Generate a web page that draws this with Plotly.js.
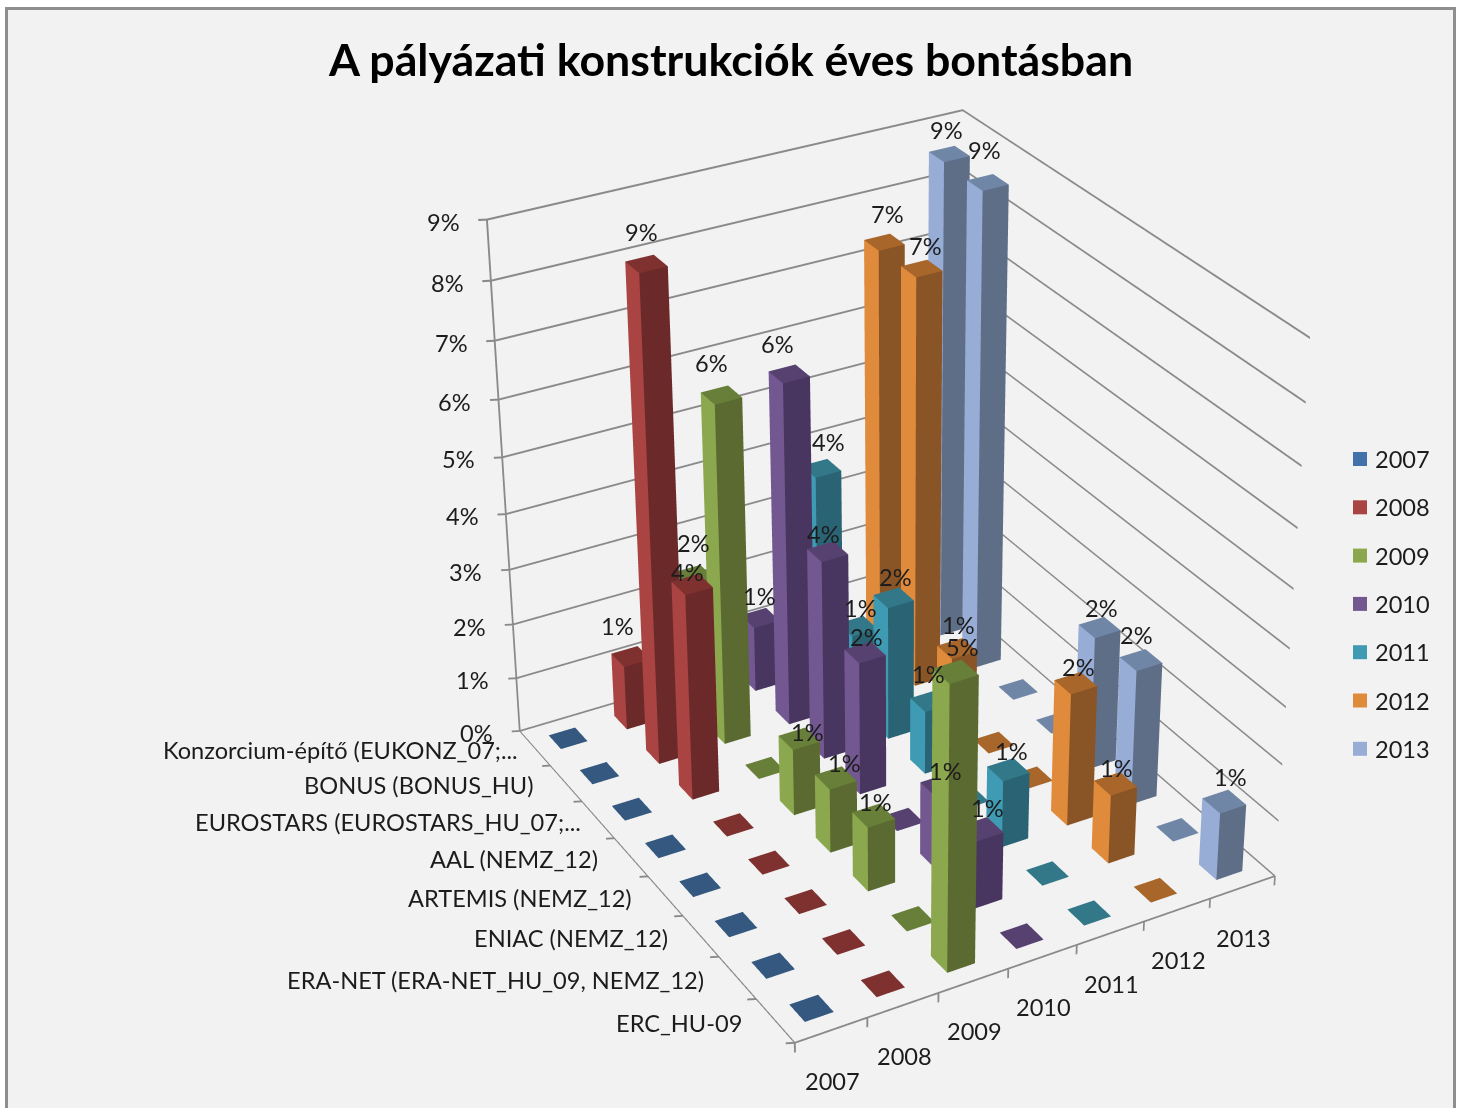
<!DOCTYPE html>
<html><head><meta charset="utf-8">
<script src="https://cdn.plot.ly/plotly-3.0.1.min.js"></script>
<style>
html,body{margin:0;padding:0;width:1462px;height:1108px;overflow:hidden;background:#fff}
#frame{position:absolute;left:5px;top:7px;width:1445px;height:1200px;background:#f2f2f2;border:3px solid #8e8e8e}
#chart{position:absolute;left:0;top:-901px;width:1582px;height:2910px}
</style></head><body>
<div id="frame"></div><div id="chart"></div>
<script>
const title = "A pályázati konstrukciók éves bontásban";
const categories = ["ERC_HU-09","ERA-NET (ERA-NET_HU_09, NEMZ_12)","ENIAC (NEMZ_12)","ARTEMIS (NEMZ_12)","AAL (NEMZ_12)","EUROSTARS (EUROSTARS_HU_07;...","BONUS (BONUS_HU)","Konzorcium-építő (EUKONZ_07;..."];
const years = ["2007","2008","2009","2010","2011","2012","2013"];
const v2007 = [0,0,0,0,0,0,0,0];
const v2008 = [0,0,0,0,0,3.7,8.57,1.18];
const v2009 = [4.92,0,1.15,1.15,1.2,0,6.1,2.35];
const v2010 = [0,1.2,1.3,0,2.4,3.6,6.16,1.2];
const v2011 = [0,0,1.2,0,1.15,2.43,1.3,3.65];
const v2012 = [0,1.23,2.38,0,0,1.14,7.38,7.36];
const v2013 = [1.2,0,2.43,2.4,0,0,8.56,8.6];
const series = [v2007,v2008,v2009,v2010,v2011,v2012,v2013];
const zTicks = ["0%","1%","2%","3%","4%","5%","6%","7%","8%","9%"];
const faceLeft  = ["#4372aa","#a94442","#8ba84e","#725790","#3f9bb4","#e08a3c","#97add6"];
const faceRight = ["#2b4a70","#6b2a29","#5a6a30","#483660","#2a6474","#8a5526","#5f6e87"];
const faceTop   = ["#34587f","#7f3130","#677f38","#574170","#327888","#a8662b","#7086a6"];
const legendCol = ["#4372aa","#a94442","#8ba84e","#725790","#3f9bb4","#e08a3c","#97add6"];
// per-label nudges in px [right, up], keyed "series,row"
const labelNudge = {"1,7":[-8,3],"1,6":[0,5],"1,5":[0,-14],
 "2,7":[5,5],"2,6":[-5,5],"2,4":[13,-20],"2,3":[14,-12],"2,2":[7,-13],"2,0":[12,-2],
 "3,7":[4,-5],"3,6":[-7,3],"3,5":[1,-9],"3,4":[6,-12],"3,2":[9,-13],"3,1":[11,-6],
 "4,7":[12,-1],"4,6":[8,-9],"4,5":[7,-6],"4,4":[3,0],"4,2":[8,-8],
 "5,7":[8,1],"5,6":[9,-4],"5,5":[6,-4],"5,2":[8,-11],"5,1":[6,-11],
 "6,7":[2,-3],"6,6":[2,5],"6,3":[7,-8],"6,2":[1,-2],"6,0":[11,-2]};

const W=1582,H=2910,TOP=901,BAR=0.4;
const FONT="Lato, sans-serif", TXT="#1c1c1c", GRID="#8a8a8a";
const px=x=>x/W, py=y=>1-(y+TOP)/H;
const NX=years.length, NY=categories.length, NZ=zTicks.length-1;
// axis ranges: a small margin past the floor/walls leaves room for the lines and tick marks
const xr=[-0.12,NX+.06], yr=[-.06,NY+0.08], zr=[-0.2,NZ+.06];
// scene units per step on each axis
const ux=.5825/NX, uy=.661/NY, uz=.640/NZ;
const shift=[(xr[0]+xr[1]-NX)/2*ux,(yr[0]+yr[1]-NY)/2*uy,(zr[0]+zr[1]-NZ)/2*uz];

function meshBuilder(){
  const m={x:[],y:[],z:[],i:[],j:[],k:[],facecolor:[]};
  m.quad=(a,b,c,d,col)=>{const n=m.x.length;
    [a,b,c,d].forEach(p=>{m.x.push(p[0]);m.y.push(p[1]);m.z.push(p[2]);});
    m.i.push(n,n);m.j.push(n+1,n+2);m.k.push(n+2,n+3);m.facecolor.push(col,col);};
  return m;
}
const flat={ambient:1,diffuse:0,specular:0,roughness:1,fresnel:0};
function toTrace(m,name){
  return {type:'mesh3d',name,x:m.x,y:m.y,z:m.z,i:m.i,j:m.j,k:m.k,facecolor:m.facecolor,flatshading:true,
    hoverinfo:'skip',showscale:false,lighting:flat,lightposition:{x:0,y:0,z:1000}};
}
function barMesh(s){
  const m=meshBuilder();
  series[s].forEach((v,r)=>{
    const x0=s+.5-BAR/2,x1=s+.5+BAR/2,y0=r+.5-BAR/2,y1=r+.5+BAR/2;
    m.quad([x0,y0,v],[x1,y0,v],[x1,y1,v],[x0,y1,v],faceTop[s]);
    if(v>0){
      m.quad([x0,y0,0],[x0,y1,0],[x0,y1,v],[x0,y0,v],faceLeft[s]);
      m.quad([x0,y0,0],[x1,y0,0],[x1,y0,v],[x0,y0,v],faceRight[s]);
    }
  });
  return toTrace(m,years[s]);
}
const data=years.map((_,s)=>barMesh(s));

// walls, axis edges and tick marks as thin ribbons so they keep a 2px weight
const g=meshBuilder(), dz=.017, dd=.013;
const hline=(a,b)=>g.quad([a[0],a[1],a[2]-dz],[b[0],b[1],b[2]-dz],[b[0],b[1],b[2]+dz],[a[0],a[1],a[2]+dz],GRID);
for(let n=0;n<=NZ;n++){
  hline([0,NY,n],[NX,NY,n]);
  hline([NX,NY,n],[NX,0,n]);
  hline([-.1,NY+.045,n],[0,NY,n]);
}
g.quad([-dd,NY,0],[dd,NY,0],[dd,NY,NZ],[-dd,NY,NZ],GRID);
hline([0,0,0],[NX,0,0]);
hline([0,0,0],[0,NY,0]);
for(let n=0;n<=NX;n++) g.quad([n-dd,0,-.17],[n+dd,0,-.17],[n+dd,0,0],[n-dd,0,0],GRID);
for(let n=0;n<NY;n++) hline([-.1,n+.045,0],[0,n,0]);
data.push(toTrace(g,'grid'));

const ann=[];
const tf={family:FONT,size:23.6,color:TXT};
series.forEach((vals,s)=>vals.forEach((v,r)=>{
  if(v>0){const nu=labelNudge[s+','+r]||[0,0];
    ann.push({x:s+.5,y:r+.5,z:v,text:Math.round(v)+"%",showarrow:false,yshift:27+nu[1],xshift:-5+nu[0],font:tf});}
}));
years.forEach((t,s)=>ann.push({x:s+.5,y:0,z:0,text:t,showarrow:false,yshift:-50.5,xshift:1,font:tf}));
categories.forEach((t,r)=>ann.push({x:0,y:r+.5,z:0,text:t,showarrow:false,xanchor:'right',yshift:-2,xshift:t.endsWith('...')?-15:-31,font:tf}));
zTicks.forEach((t,n)=>ann.push({x:0,y:NY,z:n,text:t,showarrow:false,xanchor:'right',xshift:-25,yshift:-2,font:tf}));

const ax={visible:false,showbackground:false,showspikes:false,autorange:false,title:{text:''}};
const shapes=[],lanns=[];
years.forEach((t,s)=>{
  const yc=459+s*48.3;
  shapes.push({type:'rect',xref:'paper',yref:'paper',x0:px(1353),x1:px(1367),y0:py(yc-7),y1:py(yc+7),fillcolor:legendCol[s],line:{width:0}});
  lanns.push({xref:'paper',yref:'paper',x:px(1373),y:py(yc),xanchor:'left',yanchor:'middle',text:t,showarrow:false,font:tf});
});
const eye0=[-1.595,-2.807,1.856], ctr0=[-.111,0,.027];
const layout={width:W,height:H,margin:{l:0,r:0,t:0,b:0,pad:0},paper_bgcolor:'rgba(0,0,0,0)',showlegend:false,
  title:{text:'<b>'+title+'</b>',x:px(731),y:py(60),xref:'paper',yref:'paper',xanchor:'center',yanchor:'middle',font:{family:FONT,size:44.7,color:'#000'}},
  shapes,annotations:lanns,
  scene:{domain:{x:[0,1],y:[0,1]},bgcolor:'rgba(0,0,0,0)',aspectmode:'manual',
    aspectratio:{x:(xr[1]-xr[0])*ux,y:(yr[1]-yr[0])*uy,z:(zr[1]-zr[0])*uz},
    camera:{eye:{x:eye0[0]-shift[0],y:eye0[1]-shift[1],z:eye0[2]-shift[2]},
            center:{x:ctr0[0]-shift[0],y:ctr0[1]-shift[1],z:ctr0[2]-shift[2]},
            up:{x:.249,y:.433,z:.866},projection:{type:'perspective'}},
    xaxis:Object.assign({},ax,{range:xr}),
    yaxis:Object.assign({},ax,{range:yr}),
    zaxis:Object.assign({},ax,{range:zr}),
    annotations:ann}
};
Plotly.newPlot('chart',data,layout,{displayModeBar:false,responsive:false});
</script>
</body></html>
